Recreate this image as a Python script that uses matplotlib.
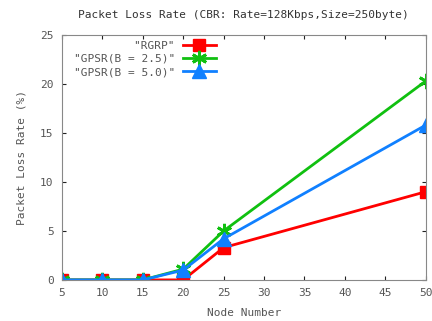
import matplotlib
matplotlib.use("Agg")
import matplotlib.pyplot as plt

# data
nodes = [5, 10, 15, 20, 25, 50]
rgrp = [0, 0, 0, 0, 3.3, 9.0]
gpsr_25 = [0, 0, 0, 1.1, 5.0, 20.3]
gpsr_50 = [0, 0, 0, 1.0, 4.2, 15.8]
labels = ['    "RGRP"', '"GPSR(B = 2.5)"', '"GPSR(B = 5.0)"']

plt.rcParams['font.family'] = ['DejaVu Sans Mono']
txt = '#555555'

fig = plt.figure(figsize=(4.32, 3.21), dpi=100)
ax = fig.add_axes([0.1435, 0.128, 0.842, 0.763])

ax.plot(nodes, rgrp, color='#ff0000', lw=2, marker='s', ms=9, label=labels[0])
ax.plot(nodes, gpsr_25, color='#10c010', lw=2, marker=(6, 2, 0), ms=11, mew=2, label=labels[1])
ax.plot(nodes, gpsr_50, color='#1080ff', lw=2, marker='^', ms=10, label=labels[2])

ax.set_xlim(5, 50)
ax.set_ylim(0, 25)
ax.set_xticks(range(5, 51, 5))
ax.set_yticks(range(0, 26, 5))
ax.tick_params(direction='in', top=True, right=True, length=3, labelsize=8,
               labelcolor=txt, color='#222222', width=0.8, pad=6)
for s in ax.spines.values():
    s.set_color('#888888')

ax.set_title('Packet Loss Rate (CBR: Rate=128Kbps,Size=250byte)', fontsize=8, color='#333333', pad=12)
ax.set_xlabel('Node Number', fontsize=8, color=txt, labelpad=7)
ax.set_ylabel('Packet Loss Rate (%)', fontsize=8, color=txt, labelpad=10)

leg = ax.legend(loc='upper left', bbox_to_anchor=(0.02, 0.995), frameon=False, markerfirst=False,
                fontsize=8, handlelength=3.0, labelspacing=0.3, handletextpad=0.7, borderaxespad=0)
for t in leg.get_texts():
    t.set_color(txt)

fig.savefig('out.png', dpi=100)
